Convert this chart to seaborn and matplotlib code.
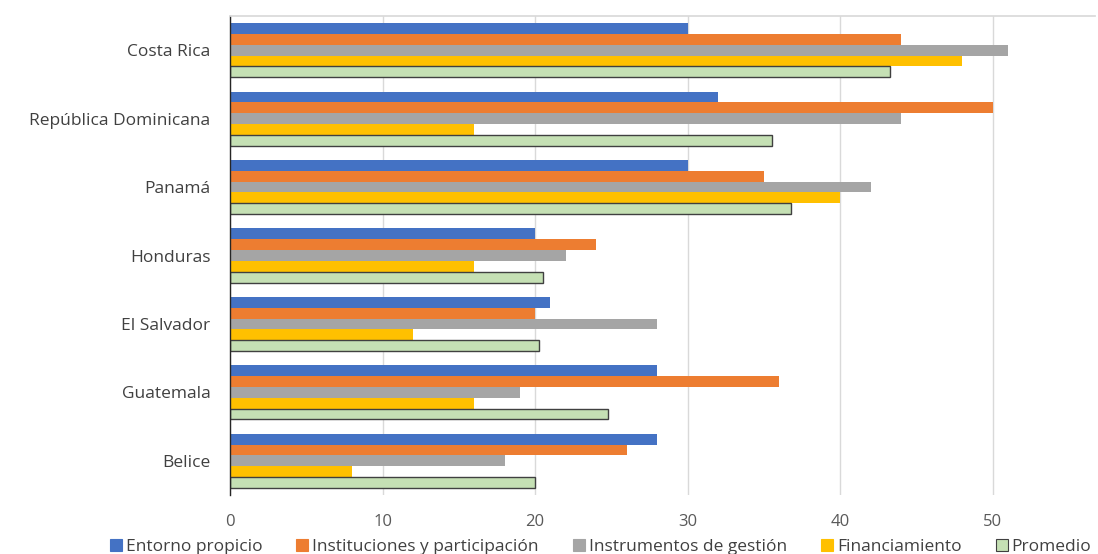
import matplotlib
matplotlib.use("Agg")
import matplotlib.pyplot as plt
from matplotlib.patches import Patch
import seaborn as sns
import pandas as pd

paises = ["Costa Rica", "República Dominicana", "Panamá", "Honduras",
          "El Salvador", "Guatemala", "Belice"]
entorno = [30, 32, 30, 20, 21, 28, 28]
instituciones = [44, 50, 35, 24, 20, 36, 26]
instrumentos = [51, 44, 42, 22, 28, 19, 18]
financiamiento = [48, 16, 40, 16, 12, 16, 8]
promedio = [43.25, 35.5, 36.75, 20.5, 20.25, 24.75, 20]

series = ["Entorno propicio", "Instituciones y participación",
          "Instrumentos de gestión", "Financiamiento", "Promedio"]
colores = ["#4472C4", "#ED7D31", "#A5A5A5", "#FFC000", "#C5E0B4"]
ticks_x = [0, 10, 20, 30, 40, 50]

sns.set_theme(style="white")
plt.rcParams["font.family"] = ["Open Sans", "DejaVu Sans"]

valores = [entorno, instituciones, instrumentos, financiamiento, promedio]
df = pd.DataFrame(
    [(p, s, v[i]) for s, v in zip(series, valores) for i, p in enumerate(paises)],
    columns=["pais", "serie", "valor"],
)

fig = plt.figure(figsize=(10.98, 5.54), dpi=100)
ax = fig.add_axes([230 / 1098, (554 - 495) / 554, (1095 - 230) / 1098, (495 - 16) / 554])

sns.barplot(data=df, y="pais", x="valor", hue="serie", order=paises,
            hue_order=series, palette=colores, orient="h", width=0.79,
            saturation=1, ax=ax, legend=False, linewidth=0)

# outline on the average bars
n = len(paises)
for patch in ax.patches[4 * n:5 * n]:
    patch.set_edgecolor("#404040")
    patch.set_linewidth(1.0)

ax.set_xlim(0, 56.7)
ax.set_ylim(n - 0.5, -0.5)
ax.set_xticks(ticks_x)
ax.set_xlabel("")
ax.set_ylabel("")
ax.grid(axis="x", color="#D9D9D9", linewidth=1)
ax.set_axisbelow(True)
for side in ["right", "bottom"]:
    ax.spines[side].set_visible(False)
ax.spines["top"].set_color("#D9D9D9")
ax.spines["left"].set_color("#262626")
ax.spines["left"].set_linewidth(1)
ax.tick_params(axis="x", length=0, labelsize=12, labelcolor="#595959", pad=14)
ax.tick_params(axis="y", length=0, labelsize=12.5, labelcolor="#404040", pad=14)

handles = [Patch(facecolor=c, edgecolor=("#404040" if s == "Promedio" else c), linewidth=0.8)
           for s, c in zip(series, colores)]
fig.legend(handles, series, loc="lower center", bbox_to_anchor=(0.547, -0.03),
           ncol=5, frameon=False, fontsize=12.5, handlelength=0.7, handleheight=0.7,
           handletextpad=0.23, columnspacing=1.95, labelcolor="#404040")

fig.savefig("out.png", dpi=100)
